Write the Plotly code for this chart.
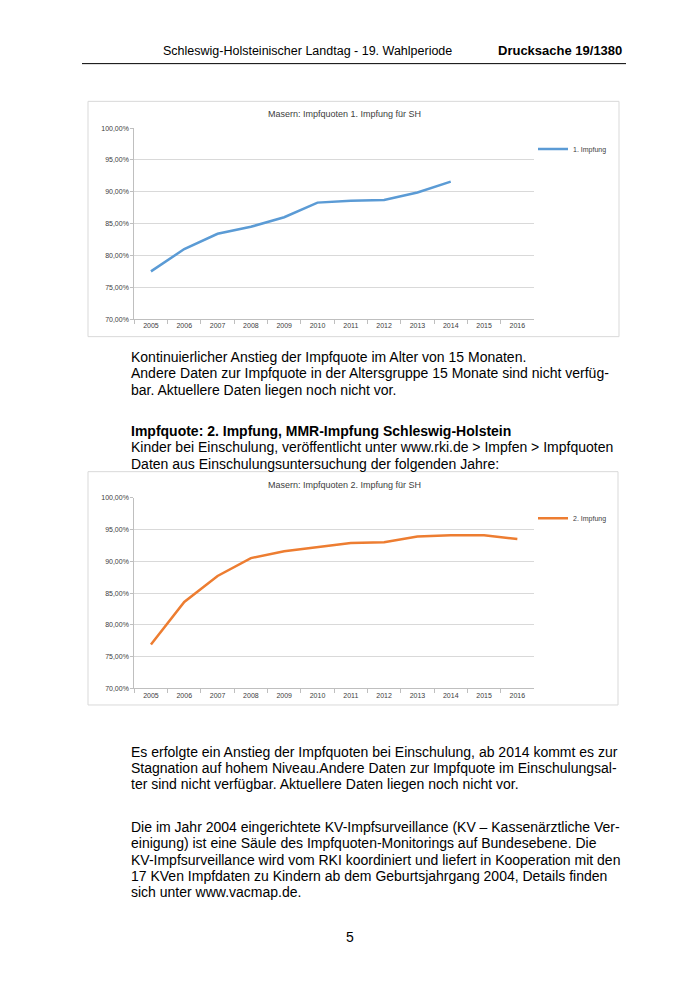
import plotly.graph_objects as go

# The page body has a default 8px margin, so the figure is drawn 8px smaller on each
# side and positions are given in page pixels, shifted by that margin.
OFF = 8
W, H = 700 - 2 * OFF, 990 - 2 * OFF

years = [str(y) for y in range(2005, 2017)]
years_1 = years[:10]
quote_1 = [77.5, 81.0, 83.4, 84.5, 86.0, 88.3, 88.6, 88.7, 89.9, 91.6]
years_2 = years
quote_2 = [76.9, 83.6, 87.7, 90.5, 91.6, 92.3, 92.9, 93.0, 93.9, 94.1, 94.1, 93.5]

title_1 = "Masern: Impfquoten 1. Impfung für SH"
title_2 = "Masern: Impfquoten 2. Impfung für SH"
name_1 = "1. Impfung"
name_2 = "2. Impfung"

header_left = "Schleswig-Holsteinischer Landtag - 19. Wahlperiode"
header_right = "Drucksache 19/1380"

text_a = [
    "Kontinuierlicher Anstieg der Impfquote im Alter von 15 Monaten.",
    "Andere Daten zur Impfquote in der Altersgruppe 15 Monate sind nicht verfüg-",
    "bar. Aktuellere Daten liegen noch nicht vor.",
]
heading_b = "Impfquote: 2. Impfung, MMR-Impfung Schleswig-Holstein"
text_b = [
    "Kinder bei Einschulung, veröffentlicht unter www.rki.de > Impfen > Impfquoten",
    "Daten aus Einschulungsuntersuchung der folgenden Jahre:",
]
text_c = [
    "Es erfolgte ein Anstieg der Impfquoten bei Einschulung, ab 2014 kommt es zur",
    "Stagnation auf hohem Niveau.Andere Daten zur Impfquote im Einschulungsal-",
    "ter sind nicht verfügbar. Aktuellere Daten liegen noch nicht vor.",
]
text_d = [
    "Die im Jahr 2004 eingerichtete KV-Impfsurveillance (KV – Kassenärztliche Ver-",
    "einigung) ist eine Säule des Impfquoten-Monitorings auf Bundesebene. Die",
    "KV-Impfsurveillance wird vom RKI koordiniert und liefert in Kooperation mit den",
    "17 KVen Impfdaten zu Kindern ab dem Geburtsjahrgang 2004, Details finden",
    "sich unter www.vacmap.de.",
]
page_no = "5"

FONT = "Liberation Sans, Arial, sans-serif"
TICK_COLOR = "#404040"


def px(x):
    return (x - OFF) / W


def py(y):
    return 1 - (y - OFF) / H


fig = go.Figure()
fig.add_trace(go.Scatter(x=years_1, y=quote_1, mode="lines", name=name_1,
                         line=dict(color="#5b9bd5", width=2.5),
                         xaxis="x", yaxis="y", legend="legend"))
fig.add_trace(go.Scatter(x=years_2, y=quote_2, mode="lines", name=name_2,
                         line=dict(color="#ed7d31", width=2.5),
                         xaxis="x2", yaxis="y2", legend="legend2"))

xdom = [px(134.3), px(534)]
common_x = dict(type="category", categoryorder="array", categoryarray=years,
                range=[-0.5, 11.5], tickson="boundaries", ticks="outside",
                ticklen=4, tickcolor="#bfbfbf", showline=True, linecolor="#bfbfbf",
                linewidth=1, showgrid=False, zeroline=False,
                tickfont=dict(family=FONT, size=7, color=TICK_COLOR), fixedrange=True)
common_y = dict(range=[70, 100], dtick=5, tick0=70, tickformat=".2f", ticksuffix="%",
                ticks="outside", ticklen=3, tickcolor="#bfbfbf", showline=True,
                linecolor="#bfbfbf", linewidth=1, showgrid=True, gridcolor="#d9d9d9",
                gridwidth=1, zeroline=False,
                tickfont=dict(family=FONT, size=7, color=TICK_COLOR), fixedrange=True)

fig.update_layout(
    width=W, height=H, margin=dict(l=0, r=0, t=0, b=0),
    paper_bgcolor="white", plot_bgcolor="white", separators=", ",
    font=dict(family=FONT, color="black"),
    xaxis=dict(domain=xdom, anchor="y", **common_x),
    yaxis=dict(domain=[py(317.3), py(125)], anchor="x", **common_y),
    xaxis2=dict(domain=xdom, anchor="y2", **common_x),
    yaxis2=dict(domain=[py(689.3), py(497.3)], anchor="x2", **common_y),
    legend=dict(x=px(533), y=py(146), xanchor="left", yanchor="middle",
                font=dict(family=FONT, size=7, color=TICK_COLOR),
                bgcolor="rgba(0,0,0,0)", itemwidth=30),
    legend2=dict(x=px(533), y=py(518), xanchor="left", yanchor="middle",
                 font=dict(family=FONT, size=7, color=TICK_COLOR),
                 bgcolor="rgba(0,0,0,0)", itemwidth=30),
    showlegend=True,
)

shapes = [
    dict(type="line", xref="paper", yref="paper", x0=px(82), x1=px(626),
         y0=py(60), y1=py(60), line=dict(color="black", width=1)),
    dict(type="rect", xref="paper", yref="paper", x0=px(88), x1=px(619),
         y0=py(98), y1=py(335), line=dict(color="#d9d9d9", width=1)),
    dict(type="rect", xref="paper", yref="paper", x0=px(88), x1=px(618),
         y0=py(471), y1=py(706), line=dict(color="#d9d9d9", width=1)),
]
fig.update_layout(shapes=shapes)

ann = []


def add_text(t, x, y, size=14, bold=False, xanchor="left", color="black"):
    ann.append(dict(text=("<b>%s</b>" % t) if bold else t, x=px(x), y=py(y),
                    xref="paper", yref="paper", xanchor=xanchor, yanchor="middle",
                    showarrow=False, font=dict(family=FONT, size=size, color=color)))


add_text(header_left, 161, 47, size=12.5)
add_text(header_right, 624, 47, size=13, bold=True, xanchor="right")
add_text(title_1, 344, 111, size=9, xanchor="center", color="#404040")
add_text(title_2, 344, 484, size=9, xanchor="center", color="#404040")

for i, t in enumerate(text_a):
    add_text(t, 129, 355 + i * 16.7)
add_text(heading_b, 129, 430, bold=True)
for i, t in enumerate(text_b):
    add_text(t, 129, 446.5 + i * 16.7)
for i, t in enumerate(text_c):
    add_text(t, 129, 753 + i * 16.5)
for i, t in enumerate(text_d):
    add_text(t, 129, 829 + i * 16.4)
add_text(page_no, 350, 940, xanchor="center")

fig.update_layout(annotations=ann)

fig.write_html("out.html")
